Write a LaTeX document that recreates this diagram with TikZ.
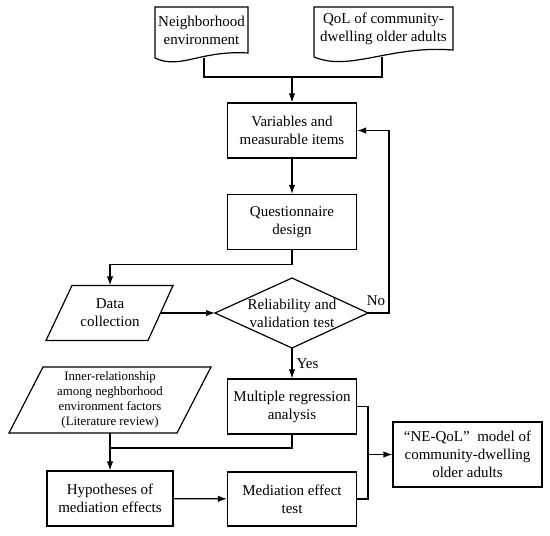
\documentclass[tikz,border=0pt]{standalone}
\usepackage{fontspec}
\setmainfont{Liberation Serif}
\usetikzlibrary{arrows.meta,calc}
\begin{document}
\begin{tikzpicture}[x=1pt,y=-1pt,
  ln/.style={line width=1.2pt},
  arr/.style={line width=1.2pt,-{Latex[length=9pt,width=6.5pt]}},
  txt/.style={align=center,inner sep=0pt,font=\fontsize{15}{18}\selectfont},
  smalltxt/.style={align=center,inner sep=0pt,font=\fontsize{12.8}{15}\selectfont},
  box/.style={draw,line width=1.2pt,align=center,inner sep=2pt,minimum width=129pt,minimum height=55pt,font=\fontsize{15}{18}\selectfont}]
\useasboundingbox (0,0) rectangle (550,536);
% documents
\node[txt] (ne) at (201.5,30) {Neighborhood\\environment};
\draw[ln] (155,58) -- (155,7) -- (248,7) -- (248,53) .. controls (200,50) and (180,70) .. (155,58);
\node[txt] (qol) at (383.5,29) {QoL of community-\\dwelling older adults};
\draw[ln] (314,57) -- (314,7) -- (453,7) -- (453,50) .. controls (390,45) and (350,72) .. (314,57);
\coordinate (d1b) at (204,57.5);
\coordinate (d2b) at (382,56.5);
\coordinate (j1) at (204,77);
\coordinate (j2) at (382,77);
\coordinate (jm) at (292,77);
\draw[ln] (d1b) -- (j1) -- (j2) -- (d2b);
% boxes
\node[box] (vm) at (292,130.5) {Variables and\\measurable items};
\node[box] (qd) at (292,222) {Questionnaire\\design};
\draw[arr] (jm) -- (vm.north);
\draw[arr] (vm) -- (qd);
% data collection
\node[txt,minimum width=100pt,minimum height=55pt] (dc) at (110,313) {Data\\collection};
\draw[ln] (72,285.5) -- (173,285.5) -- (148,340.5) -- (46,340.5) -- cycle;
\draw[arr] (qd.south) -- ++(0,14) -| (dc.north);
% diamond
\coordinate (rvw) at (215,313);
\coordinate (rvn) at (292,278);
\coordinate (rve) at (368,313);
\coordinate (rvs) at (292,348);
\draw[ln] (rvw) -- (rvn) -- (rve) -- (rvs) -- cycle;
\node[txt] (rv) at (292,313) {Reliability and\\validation test};
\draw[arr] (dc.east) -- (rvw);
\coordinate (nc) at (389,313);
\draw[arr] (rve) -- (nc) |- (vm.east);
\node[txt] (no) at (376,301) {No};
% lower part
\node[box] (mr) at (292,406.5) {Multiple regression\\analysis};
\draw[arr] (rvs) -- (mr.north) node[midway,right,txt,xshift=4pt] {Yes};
\node[smalltxt,minimum height=66pt] (ir) at (110,400) {Inner-relationship\\among neghborhood\\environment factors\\(Literature review)};
\draw[ln] (43,367) -- (211,367) -- (177,433) -- (9,433) -- cycle;
\node[box,minimum width=126pt] (hy) at (110,498.5) {Hypotheses of\\mediation effects};
\node[box,minimum height=54pt] (md) at (292,499) {Mediation effect\\test};
\coordinate (j3) at (110,448);
\draw[arr] (ir.south) -- (hy.north);
\draw[ln] (mr.south) |- (j3);
\draw[arr] (hy) -- (md);
\node[box,minimum width=149pt,minimum height=65pt] (fm) at (467.5,454.5) {“NE-QoL”~~model of\\community-dwelling\\older adults};
\coordinate (j4) at (368,454.5);
\draw[ln] (mr.east) -| (j4) |- (md.east);
\draw[arr] (j4) -- (fm.west);
\end{tikzpicture}
\end{document}
